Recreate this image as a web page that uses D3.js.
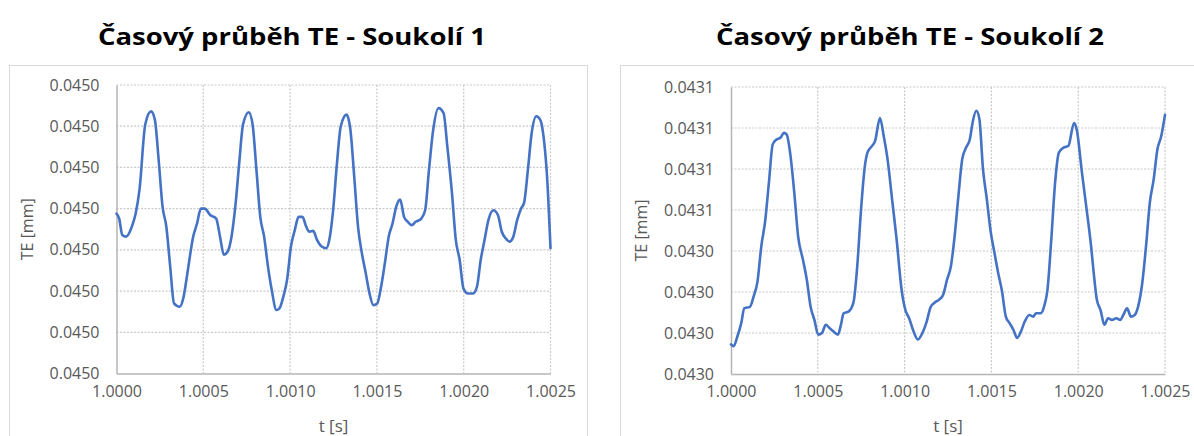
<!DOCTYPE html>
<html>
<head>
<meta charset="utf-8">
<script src="https://cdn.jsdelivr.net/npm/d3@7"></script>
<style>
  html, body { margin: 0; padding: 0; background: #fff; }
  svg { display: block; font-family: "Open Sans", "Noto Sans", sans-serif; }
</style>
</head>
<body>
<svg id="chart" width="1194" height="436"></svg>
<script>
// Transmission error (TE) over time for two gear sets.
const titles = ["Časový průběh TE - Soukolí 1", "Časový průběh TE - Soukolí 2"];
const xAxisTitle = "t [s]";
const yAxisTitle = "TE [mm]";

const xTicks = [1.0000, 1.0005, 1.0010, 1.0015, 1.0020, 1.0025];
const xTickLabels = ["1.0000", "1.0005", "1.0010", "1.0015", "1.0020", "1.0025"];

const yTicks1 = [0.045000, 0.045005, 0.045010, 0.045015, 0.045020, 0.045025, 0.045030, 0.045035];
const yTickLabels1 = ["0.0450", "0.0450", "0.0450", "0.0450", "0.0450", "0.0450", "0.0450", "0.0450"];

const yTicks2 = [0.043030, 0.043035, 0.043040, 0.043045, 0.043050, 0.043055, 0.043060, 0.043065];
const yTickLabels2 = ["0.0430", "0.0430", "0.0430", "0.0430", "0.0431", "0.0431", "0.0431", "0.0431"];

// Gear set 1
const time1 = [
  1.0000000, 1.0000155, 1.0000331, 1.0000552, 1.0000883, 1.0001104, 1.0001325, 1.0001656, 1.0001988, 1.0002208,
  1.0002429, 1.0002650, 1.0002871, 1.0003092, 1.0003313, 1.0003644, 1.0003865, 1.0004086, 1.0004417, 1.0004638,
  1.0004859, 1.0005080, 1.0005411, 1.0005742, 1.0005963, 1.0006184, 1.0006405, 1.0006625, 1.0006846, 1.0007067,
  1.0007288, 1.0007620, 1.0007840, 1.0008061, 1.0008282, 1.0008503, 1.0008724, 1.0008945, 1.0009210, 1.0009386,
  1.0009607, 1.0009828, 1.0010049, 1.0010270, 1.0010491, 1.0010711, 1.0010932, 1.0011109, 1.0011330, 1.0011551,
  1.0011816, 1.0012081, 1.0012257, 1.0012478, 1.0012699, 1.0012920, 1.0013251, 1.0013472, 1.0013693, 1.0013914,
  1.0014134, 1.0014355, 1.0014576, 1.0014797, 1.0015018, 1.0015239, 1.0015460, 1.0015680, 1.0015901, 1.0016122,
  1.0016343, 1.0016564, 1.0016785, 1.0017006, 1.0017226, 1.0017558, 1.0017779, 1.0018000, 1.0018220, 1.0018552,
  1.0018839, 1.0019059, 1.0019324, 1.0019545, 1.0019766, 1.0019987, 1.0020252, 1.0020539, 1.0020760, 1.0020981,
  1.0021201, 1.0021422, 1.0021709, 1.0021975, 1.0022195, 1.0022416, 1.0022637, 1.0022858, 1.0023079, 1.0023300,
  1.0023477, 1.0023697, 1.0023918, 1.0024183, 1.0024404, 1.0024625, 1.0024801, 1.0025000
];
const te1 = [
  0.0450194, 0.0450188, 0.0450168, 0.0450166, 0.0450178, 0.0450194, 0.0450223, 0.0450302, 0.0450318, 0.0450308,
  0.0450259, 0.0450203, 0.0450178, 0.0450130, 0.0450085, 0.0450081, 0.0450093, 0.0450122, 0.0450166, 0.0450182,
  0.0450200, 0.0450200, 0.0450192, 0.0450188, 0.0450166, 0.0450144, 0.0450148, 0.0450166, 0.0450203, 0.0450255,
  0.0450302, 0.0450317, 0.0450302, 0.0450247, 0.0450190, 0.0450166, 0.0450130, 0.0450101, 0.0450077, 0.0450079,
  0.0450093, 0.0450114, 0.0450154, 0.0450174, 0.0450190, 0.0450190, 0.0450178, 0.0450172, 0.0450173, 0.0450162,
  0.0450154, 0.0450152, 0.0450162, 0.0450198, 0.0450255, 0.0450300, 0.0450314, 0.0450296, 0.0450239, 0.0450178,
  0.0450146, 0.0450122, 0.0450097, 0.0450083, 0.0450085, 0.0450105, 0.0450134, 0.0450166, 0.0450182, 0.0450203,
  0.0450211, 0.0450190, 0.0450184, 0.0450180, 0.0450184, 0.0450188, 0.0450198, 0.0450247, 0.0450292, 0.0450322,
  0.0450316, 0.0450275, 0.0450219, 0.0450162, 0.0450138, 0.0450103, 0.0450097, 0.0450097, 0.0450105, 0.0450138,
  0.0450162, 0.0450186, 0.0450198, 0.0450192, 0.0450172, 0.0450164, 0.0450160, 0.0450166, 0.0450186, 0.0450200,
  0.0450207, 0.0450247, 0.0450292, 0.0450312, 0.0450308, 0.0450283, 0.0450239, 0.0450152
];

// Gear set 2
const time2 = [
  1.0000000, 1.0000153, 1.0000371, 1.0000590, 1.0000764, 1.0001092, 1.0001310, 1.0001528, 1.0001747, 1.0001965,
  1.0002183, 1.0002402, 1.0002620, 1.0002838, 1.0003057, 1.0003210, 1.0003428, 1.0003646, 1.0003865, 1.0004148,
  1.0004367, 1.0004585, 1.0004803, 1.0005022, 1.0005240, 1.0005459, 1.0005677, 1.0005895, 1.0006157, 1.0006332,
  1.0006485, 1.0006769, 1.0007052, 1.0007271, 1.0007489, 1.0007707, 1.0007860, 1.0008079, 1.0008297, 1.0008581,
  1.0008799, 1.0009017, 1.0009279, 1.0009541, 1.0009825, 1.0010044, 1.0010262, 1.0010480, 1.0010764, 1.0011026,
  1.0011245, 1.0011507, 1.0011725, 1.0012009, 1.0012227, 1.0012445, 1.0012664, 1.0012882, 1.0013100, 1.0013319,
  1.0013537, 1.0013755, 1.0013930, 1.0014127, 1.0014301, 1.0014520, 1.0014738, 1.0014956, 1.0015175, 1.0015393,
  1.0015611, 1.0015830, 1.0016048, 1.0016266, 1.0016485, 1.0016703, 1.0016921, 1.0017183, 1.0017402, 1.0017576,
  1.0017838, 1.0018057, 1.0018231, 1.0018450, 1.0018668, 1.0018886, 1.0019148, 1.0019432, 1.0019760, 1.0019934,
  1.0020197, 1.0020459, 1.0020742, 1.0020895, 1.0021070, 1.0021288, 1.0021507, 1.0021725, 1.0021943, 1.0022205,
  1.0022424, 1.0022598, 1.0022817, 1.0023035, 1.0023253, 1.0023472, 1.0023690, 1.0023908, 1.0024127, 1.0024345,
  1.0024563, 1.0024782, 1.0025000
];
const te2 = [
  0.0430336, 0.0430334, 0.0430346, 0.0430362, 0.0430380, 0.0430382, 0.0430395, 0.0430413, 0.0430456, 0.0430486,
  0.0430533, 0.0430580, 0.0430586, 0.0430588, 0.0430594, 0.0430592, 0.0430566, 0.0430521, 0.0430468, 0.0430439,
  0.0430415, 0.0430382, 0.0430366, 0.0430348, 0.0430350, 0.0430360, 0.0430356, 0.0430352, 0.0430348, 0.0430360,
  0.0430374, 0.0430376, 0.0430387, 0.0430431, 0.0430500, 0.0430553, 0.0430570, 0.0430577, 0.0430584, 0.0430612,
  0.0430590, 0.0430562, 0.0430513, 0.0430464, 0.0430403, 0.0430378, 0.0430368, 0.0430354, 0.0430342, 0.0430350,
  0.0430362, 0.0430382, 0.0430387, 0.0430391, 0.0430397, 0.0430415, 0.0430431, 0.0430468, 0.0430517, 0.0430562,
  0.0430576, 0.0430586, 0.0430608, 0.0430621, 0.0430612, 0.0430549, 0.0430513, 0.0430474, 0.0430448, 0.0430423,
  0.0430401, 0.0430370, 0.0430362, 0.0430354, 0.0430344, 0.0430352, 0.0430364, 0.0430372, 0.0430370, 0.0430374,
  0.0430374, 0.0430384, 0.0430403, 0.0430464, 0.0430533, 0.0430570, 0.0430576, 0.0430578, 0.0430606, 0.0430596,
  0.0430549, 0.0430505, 0.0430456, 0.0430423, 0.0430391, 0.0430378, 0.0430360, 0.0430368, 0.0430366, 0.0430368,
  0.0430366, 0.0430372, 0.0430380, 0.0430370, 0.0430372, 0.0430384, 0.0430411, 0.0430456, 0.0430509, 0.0430537,
  0.0430574, 0.0430590, 0.0430616
];

// Panel layout
const panels = [
  { title: titles[0], t: time1, te: te1, yTicks: yTicks1, yLabels: yTickLabels1,
    frame: { x: 9.5, y: 65.5, w: 578 }, plot: { l: 116.5, r: 550.5, t: 85, b: 373.5 }, titleX: 292 },
  { title: titles[1], t: time2, te: te2, yTicks: yTicks2, yLabels: yTickLabels2,
    frame: { x: 620.5, y: 65.5, w: 620 }, plot: { l: 731, r: 1165, t: 87, b: 374 }, titleX: 910 }
];

const svg = d3.select("#chart");
const labelColor = "#595959";
const gridColor = "#cacaca";

panels.forEach(p => {
  const g = svg.append("g");

  // chart frame
  g.append("rect")
    .attr("x", p.frame.x).attr("y", p.frame.y)
    .attr("width", p.frame.w).attr("height", 420)
    .attr("fill", "#fff").attr("stroke", "#d9d9d9").attr("stroke-width", 1);

  // title
  g.append("text")
    .attr("x", p.titleX).attr("y", 45)
    .attr("text-anchor", "middle")
    .attr("font-size", 24).attr("font-weight", 700)
    .attr("fill", "#000")
    .attr("textLength", 388).attr("lengthAdjust", "spacingAndGlyphs")
    .text(p.title);

  const x = d3.scaleLinear().domain([xTicks[0], xTicks[xTicks.length - 1]]).range([p.plot.l, p.plot.r]);
  const y = d3.scaleLinear().domain([p.yTicks[0], p.yTicks[p.yTicks.length - 1]]).range([p.plot.b, p.plot.t]);

  // gridlines
  g.append("g").selectAll("line.h").data(p.yTicks.slice(1)).join("line")
    .attr("x1", p.plot.l).attr("x2", p.plot.r)
    .attr("y1", d => y(d)).attr("y2", d => y(d))
    .attr("stroke", gridColor).attr("stroke-width", 1.2).attr("stroke-dasharray", "2,1.5");
  g.append("g").selectAll("line.v").data(xTicks.slice(1)).join("line")
    .attr("x1", d => x(d)).attr("x2", d => x(d))
    .attr("y1", p.plot.t).attr("y2", p.plot.b)
    .attr("stroke", gridColor).attr("stroke-width", 1.2).attr("stroke-dasharray", "2,1.5");

  // axes
  const yAxis = d3.axisLeft(y).tickValues(p.yTicks)
    .tickFormat((d, i) => p.yLabels[i]).tickSize(0).tickPadding(17);
  const yg = g.append("g").attr("transform", `translate(${p.plot.l},0)`).call(yAxis);
  yg.select(".domain").attr("stroke", "#b5b5b5").attr("stroke-width", 1.5);
  yg.selectAll("text").attr("font-size", 16).attr("fill", labelColor).attr("font-family", "Open Sans");

  const xAxis = d3.axisBottom(x).tickValues(xTicks)
    .tickFormat((d, i) => xTickLabels[i]).tickSize(0).tickPadding(12);
  const xg = g.append("g").attr("transform", `translate(0,${p.plot.b})`).call(xAxis);
  xg.select(".domain").attr("stroke", "#b5b5b5").attr("stroke-width", 1.5);
  xg.selectAll("text").attr("font-size", 16).attr("fill", labelColor).attr("font-family", "Open Sans");

  // axis titles
  g.append("text")
    .attr("x", (p.plot.l + p.plot.r) / 2).attr("y", 432)
    .attr("text-anchor", "middle").attr("font-size", 17).attr("fill", labelColor)
    .text(xAxisTitle);
  g.append("text")
    .attr("transform", `translate(${p.plot.l - 84},${(p.plot.t + p.plot.b) / 2}) rotate(-90)`)
    .attr("text-anchor", "middle").attr("font-size", 16).attr("fill", labelColor)
    .text(yAxisTitle);

  // series line
  const pts = p.t.map((t, i) => [t, p.te[i]]);
  const line = d3.line().x(d => x(d[0])).y(d => y(d[1])).curve(d3.curveMonotoneX);
  g.append("path").datum(pts)
    .attr("d", line)
    .attr("fill", "none").attr("stroke", "#4472C4")
    .attr("stroke-width", 2.6).attr("stroke-linejoin", "round").attr("stroke-linecap", "round");
});
</script>
</body>
</html>
